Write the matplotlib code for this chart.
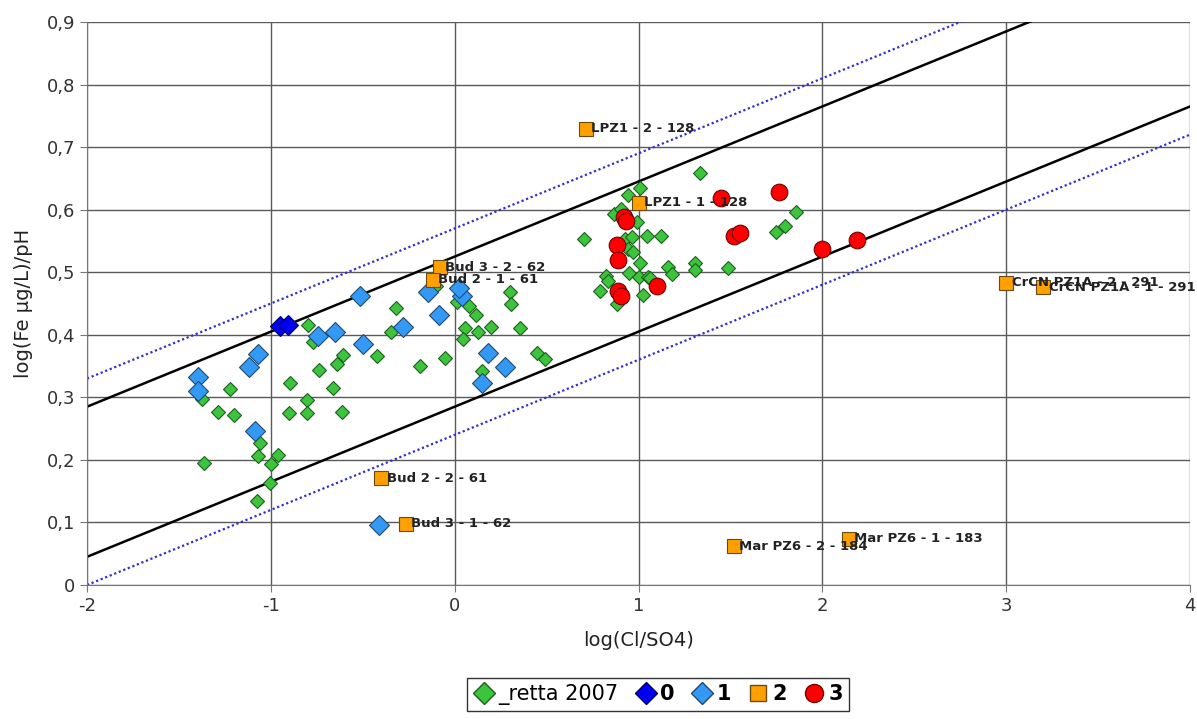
import numpy as np
import matplotlib
matplotlib.use("Agg")
import matplotlib.pyplot as plt
from matplotlib.lines import Line2D
from matplotlib.ticker import FuncFormatter

plt.rcParams["axes.unicode_minus"] = False

# _retta 2007 samples
retta_x = [-0.800, -0.773, -0.609, -0.642, -0.424, -0.740, -0.898, -0.664, -1.224, -1.376,
           -0.805, -1.289, -1.202, -0.903, -0.805, -0.615, -1.061, -1.072, -0.963, -1.366,
           -1.001, -1.007, -1.077,
           0.299, 0.305, -0.321, 0.076, 0.114, 0.011, -0.103, -0.348, 0.054, 0.125,
           0.196, 0.354, 0.044, -0.190, -0.054, 0.446, 0.490, 0.147,
           1.333, 0.941, 1.007, 0.865, 0.903, 0.990, 0.702, 0.925, 0.963, 1.045,
           1.121, 0.941, 0.968, 1.007, 1.159, 1.181, 1.306, 1.306, 0.822, 0.832,
           0.947, 1.001, 1.050, 1.061, 0.789, 1.023, 0.881, 1.855, 1.795, 1.746, 1.485]
retta_y = [0.416, 0.388, 0.368, 0.353, 0.366, 0.344, 0.323, 0.315, 0.313, 0.297,
           0.296, 0.277, 0.272, 0.275, 0.275, 0.277, 0.227, 0.206, 0.208, 0.195,
           0.193, 0.163, 0.134,
           0.468, 0.449, 0.443, 0.446, 0.432, 0.452, 0.478, 0.404, 0.411, 0.404,
           0.412, 0.411, 0.393, 0.350, 0.363, 0.371, 0.361, 0.342,
           0.659, 0.624, 0.635, 0.593, 0.601, 0.580, 0.553, 0.553, 0.556, 0.558,
           0.558, 0.537, 0.532, 0.515, 0.508, 0.497, 0.515, 0.504, 0.494, 0.486,
           0.499, 0.492, 0.492, 0.491, 0.470, 0.464, 0.449, 0.596, 0.574, 0.564, 0.507]

# class 0
c0_x = [-0.952, -0.909]
c0_y = [0.414, 0.416]

# class 1
c1_x = [-1.399, -1.399, -1.121, -1.072, -1.088, -0.517, -0.745, -0.653, -0.500,
        -0.147, 0.038, 0.022, -0.087, -0.283, 0.180, 0.272, 0.147, -0.413]
c1_y = [0.333, 0.310, 0.349, 0.369, 0.246, 0.462, 0.398, 0.404, 0.385,
        0.468, 0.462, 0.475, 0.432, 0.412, 0.371, 0.349, 0.323, 0.096]

# class 2 (labelled wells)
c2_x = [0.713, 1.000, -0.082, -0.120, 3.000, 3.200, -0.400, -0.267, 1.518, 2.144]
c2_y = [0.729, 0.611, 0.508, 0.488, 0.483, 0.476, 0.171, 0.098, 0.062, 0.074]
c2_lab = ["LPZ1 - 2 - 128", "LPZ1 - 1 - 128", "Bud 3 - 2 - 62", "Bud 2 - 1 - 61",
          "CrCN PZ1A - 2 - 291", "CrCN PZ1A - 1 - 291", "Bud 2 - 2 - 61",
          "Bud 3 - 1 - 62", "Mar PZ6 - 2 - 184", "Mar PZ6 - 1 - 183"]

# class 3
c3_x = [0.920, 0.930, 0.881, 0.887, 0.887, 0.903, 1.099, 1.447, 1.518, 1.551, 1.763, 2.000, 2.187]
c3_y = [0.588, 0.582, 0.544, 0.520, 0.470, 0.462, 0.478, 0.619, 0.558, 0.563, 0.628, 0.537, 0.552]

# reference lines y = slope*x + b
slope = 0.12
solid_b = [0.525, 0.285]
dotted_b = [0.57, 0.24]

fig = plt.figure(figsize=(11.97, 7.19), dpi=100)
ax = fig.add_axes([0.0727, 0.1864, 0.9215, 0.783])

xl = np.array([-2, 4])
for b in solid_b:
    ax.plot(xl, slope * xl + b, color="black", lw=1.8, zorder=2)
for b in dotted_b:
    ax.plot(xl, slope * xl + b, color="#3030d0", lw=1.6, ls=(0, (1, 1.2)), zorder=2)

ax.plot(retta_x, retta_y, ls="none", marker="D", ms=7, mfc="#3cc43c", mec="#1f5f1f", mew=0.8, zorder=3)
ax.plot(c0_x, c0_y, ls="none", marker="D", ms=10, mfc="#0000f0", mec="#000060", mew=0.8, zorder=4)
ax.plot(c1_x, c1_y, ls="none", marker="D", ms=10, mfc="#3399f5", mec="#204a70", mew=0.8, zorder=4)
ax.plot(c2_x, c2_y, ls="none", marker="s", ms=10.5, mfc="#ffa000", mec="#6a4a10", mew=0.8, zorder=5)
ax.plot(c3_x, c3_y, ls="none", marker="o", ms=12, mfc="#ff0000", mec="#700000", mew=0.8, zorder=5)

for x, y, t in zip(c2_x, c2_y, c2_lab):
    ax.annotate(t, (x, y), xytext=(4, 0), textcoords="offset points",
                va="center", ha="left", fontsize=9.5, fontweight="bold",
                color="#222222", zorder=6)

ax.set_xlim(-2, 4)
ax.set_ylim(0, 0.9)
ax.set_xticks(range(-2, 5))
ax.set_yticks(np.arange(0, 0.91, 0.1))
ax.yaxis.set_major_formatter(FuncFormatter(lambda v, p: "0" if abs(v) < 1e-9 else f"{v:.1f}".replace(".", ",")))
ax.grid(True, color="#5a5a5a", lw=1.0, zorder=1)
ax.set_axisbelow(True)
for s in ["top", "right"]:
    ax.spines[s].set_visible(False)
ax.spines["left"].set_color("#777777")
ax.spines["bottom"].set_color("#777777")
ax.tick_params(labelsize=13, length=5, color="#777777", labelcolor="#333333")

ax.set_xlabel("log(Cl/SO4)", fontsize=14, color="#222222", labelpad=12)
ax.set_ylabel("log(Fe µg/L)/pH", fontsize=14, color="#222222", labelpad=10)

handles = [
    Line2D([], [], ls="none", marker="D", ms=11, mfc="#3cc43c", mec="#1f5f1f"),
    Line2D([], [], ls="none", marker="D", ms=11, mfc="#0000f0", mec="#000060"),
    Line2D([], [], ls="none", marker="D", ms=11, mfc="#3399f5", mec="#204a70"),
    Line2D([], [], ls="none", marker="s", ms=11, mfc="#ffa000", mec="#6a4a10"),
    Line2D([], [], ls="none", marker="o", ms=13, mfc="#ff0000", mec="#700000"),
]
labels = ["_retta 2007", "0", "1", "2", "3"]
leg = fig.legend(handles, labels, loc="center", bbox_to_anchor=(0.55, 0.034), ncol=5,
                 fontsize=15, frameon=True, fancybox=False, edgecolor="black",
                 handlelength=1.0, handletextpad=0.2, columnspacing=0.8, borderpad=0.3)
leg.get_frame().set_linewidth(1.0)
for i, txt in enumerate(leg.get_texts()):
    if i > 0:
        txt.set_fontweight("bold")

fig.savefig("out.png", dpi=100)
